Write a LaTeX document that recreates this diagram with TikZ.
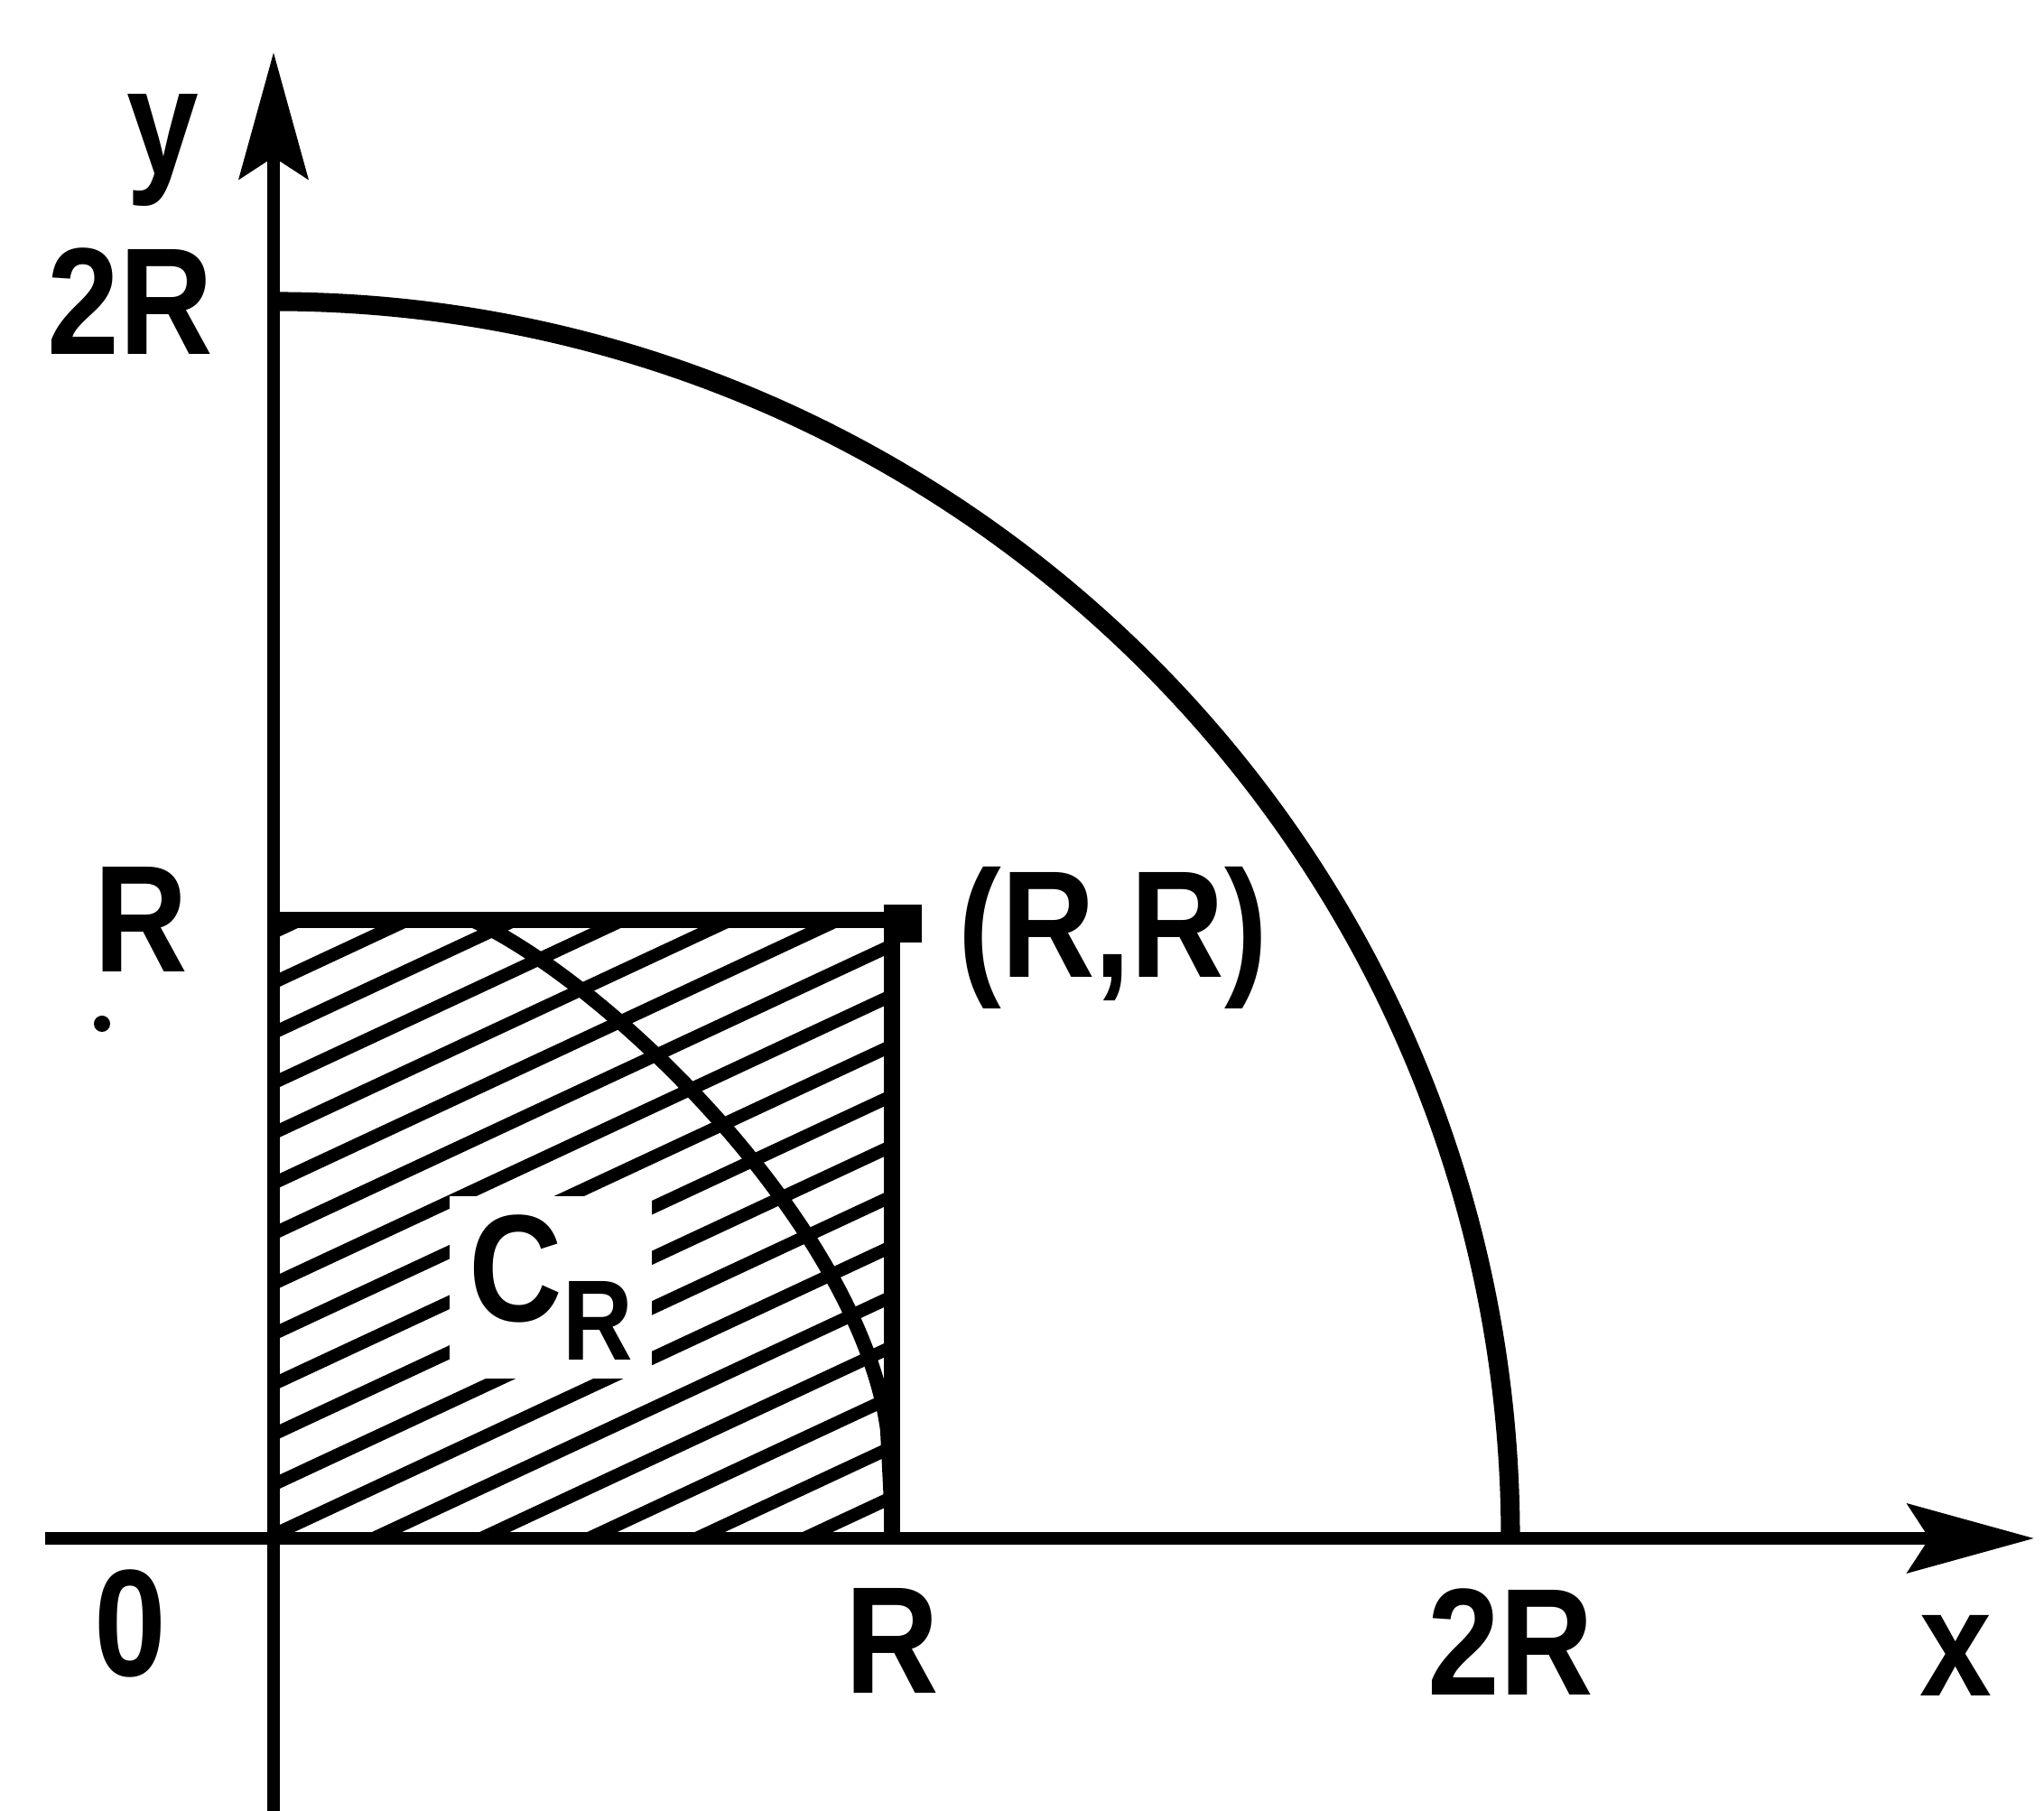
\documentclass[tikz,border=0pt]{standalone}
\usepackage{fontspec}
\setmainfont[FakeStretch=0.85]{Liberation Sans}
\usepackage{tikz}
\usetikzlibrary{arrows.meta,positioning,calc}

\begin{document}
\begin{tikzpicture}[
  axis/.style={line width=2pt,-{Stealth[length=0.7cm,width=0.38cm,inset=0.12cm]}},
  rim/.style={line width=3pt},
  sqedge/.style={line width=2.6pt},
  inarc/.style={line width=2.3pt},
  hatch/.style={line width=2pt},
  lbl/.style={font=\fontsize{24}{28}\selectfont\bfseries,inner sep=0pt}
]
  \useasboundingbox (-1.515,-1.51) rectangle (9.805,8.52);

  % Points
  \coordinate (O) at (0,0);
  \coordinate (Rx) at (3.425,0);
  \coordinate (Ry) at (0,3.425);
  \coordinate (RR) at (3.425,3.425);
  \coordinate (R2x) at (6.85,0);
  \coordinate (R2y) at (0,6.85);
  \coordinate (xs) at (-1.265,0);
  \coordinate (xe) at (9.75,0);
  \coordinate (ys) at (0,-1.51);
  \coordinate (ye) at (0,8.23);

  % Hatched square C_R
  \begin{scope}
    \clip (O) rectangle (RR);
    \foreach \k in {-6,...,12}
      \draw[hatch] (0,\k*0.278+0.02) -- ++(25:9);
    \draw[inarc] (0.8,3.47) -- (1.1,3.425) .. controls (1.9,3.05) and (3.25,1.7) .. (3.40,0.6) -- (3.43,0);
  \end{scope}
  \node[lbl,fill=white,inner sep=3pt,anchor=base west] (cr) at (0.97,1.2)
    {C\raisebox{-0.25em}{\fontsize{18}{20}\selectfont R}};

  % Square edges and corner
  \draw[sqedge] (Ry) -- (RR) -- (Rx);
  \node[fill,inner sep=0pt,minimum size=0.21cm,xshift=0.06cm,yshift=-0.02cm] (rrdot) at (RR) {};

  % Big arc
  \draw[rim] (R2y) arc[start angle=90,end angle=0,radius=6.85];

  % Axes
  \draw[axis] (xs) -- (xe);
  \draw[axis] (ys) -- (ye);

  % Labels
  \node[lbl] (ylbl) at (-0.615,7.69) {y};
  \node[lbl] (xlbl) at (9.315,-0.65) {x};
  \node[lbl] (olbl) at (-0.795,-0.47) {0};
  \node[lbl,left=0.33cm of R2y] (l2ry) {2R};
  \node[lbl,left=0.47cm of Ry] (lry) {R};
  \fill (-0.95,2.85) circle (0.045);
  \node[lbl,below=0.27cm of Rx] (lrx) {R};
  \node[lbl,below=0.27cm of R2x] (l2rx) {2R};
  \node[lbl,right=0.36cm of RR,yshift=-0.1cm] (lrr) {(R,R)};
\end{tikzpicture}
\end{document}
